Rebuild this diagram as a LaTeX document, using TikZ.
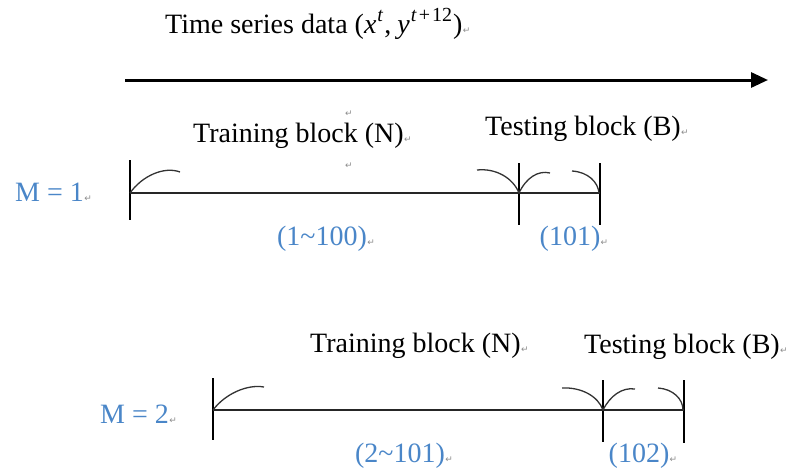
\documentclass[tikz,border=0pt]{standalone}
\usepackage{fontspec}
\setmainfont{Liberation Serif}
\newfontfamily\markfont{DejaVu Sans}
\usetikzlibrary{arrows.meta}
\definecolor{labelblue}{RGB}{74,134,200}
\definecolor{markgray}{RGB}{140,140,140}
% raised index in the title
\newcommand{\upidx}[1]{\raisebox{0.42em}{\fontsize{20}{20}\selectfont #1}}
\begin{document}
\begin{tikzpicture}[x=1pt,y=-1pt,
  font=\fontsize{28}{32}\selectfont,
  txt/.style={anchor=base west, inner sep=0pt},
  lbl/.style={txt, text=labelblue},
  pmark/.style={anchor=base west, inner sep=0pt, text=markgray,
                font=\markfont\fontsize{9}{10}\selectfont},
  tick/.style={line width=1.3pt},
  bar/.style={line width=1.3pt, draw=black!85},
  brace/.style={line width=1.3pt, draw=black!80}]
\useasboundingbox (0,0) rectangle (799,471);

% title and time axis
\node[txt] (title) at (165,33)
  {Time series data (\textit{x}\kern1pt\upidx{\textit{t}}\kern1pt,\kern6pt\textit{y}\kern1pt\upidx{\textit{t}\kern2pt+\kern2pt12}\kern1pt)};
\node[pmark] (titlemk) at (title.base east) {↵};
\coordinate (axisS) at (125,80);
\coordinate (axisE) at (768,80);
\draw[line width=3pt, -{Triangle[length=17pt,width=15pt]}] (axisS) -- (axisE);

% stray paragraph marks
\node[pmark] (mkA) at (345,116) {↵};
\node[pmark] (mkB) at (345,168) {↵};

% ---- window M = 1 ----
\node[txt] (trainA) at (193,142) {Training block (N)};
\node[pmark] at (trainA.base east) {↵};
\node[txt] (testA) at (485,135) {Testing block (B)};
\node[pmark] at (testA.base east) {↵};
\node[lbl] (mA) at (15,201) {M = 1};
\node[pmark] at (mA.base east) {↵};

\coordinate (a0) at (130,193);
\coordinate (a1) at (519,193);
\coordinate (a2) at (600,193);
\draw[tick] (130,160) -- (130,220);
\draw[tick] (519,163) -- (519,225);
\draw[tick] (600,163) -- (600,225);
\draw[bar] (a0) -- (a2);
\draw[brace] (a0) .. controls (142,176) and (164,166) .. (180,172);
\draw[brace] (477,170) .. controls (496,168) and (513,178) .. (a1);
\draw[brace] (a1) .. controls (526,178) and (538,170) .. (550,173);
\draw[brace] (572,171) .. controls (588,172) and (598,182) .. (599,193);

\node[lbl, anchor=base] (rngA) at (322,245) {(1\char`\~100)};
\node[pmark] at (rngA.base east) {↵};
\node[lbl, anchor=base] (tstA) at (570,245) {(101)};
\node[pmark] at (tstA.base east) {↵};

% ---- window M = 2 ----
\node[txt] (trainB) at (310,352) {Training block (N)};
\node[pmark] at (trainB.base east) {↵};
\node[txt] (testB) at (584,353) {Testing block (B)};
\node[pmark] at (testB.base east) {↵};
\node[lbl] (mB) at (100,423) {M = 2};
\node[pmark] at (mB.base east) {↵};

\coordinate (b0) at (213,410);
\coordinate (b1) at (603,410);
\coordinate (b2) at (684,410);
\draw[tick] (213,378) -- (213,440);
\draw[tick] (603,380) -- (603,442);
\draw[tick] (684,380) -- (684,443);
\draw[bar] (b0) -- (b2);
\draw[brace] (b0) .. controls (225,394) and (247,384) .. (264,387);
\draw[brace] (562,388) .. controls (581,387) and (598,396) .. (b1);
\draw[brace] (b1) .. controls (610,396) and (622,387) .. (635,389);
\draw[brace] (658,388) .. controls (673,389) and (683,399) .. (683,410);

\node[lbl, anchor=base] (rngB) at (400,462) {(2\char`\~101)};
\node[pmark] at (rngB.base east) {↵};
\node[lbl, anchor=base] (tstB) at (639,462) {(102)};
\node[pmark] at (tstB.base east) {↵};
\end{tikzpicture}
\end{document}
